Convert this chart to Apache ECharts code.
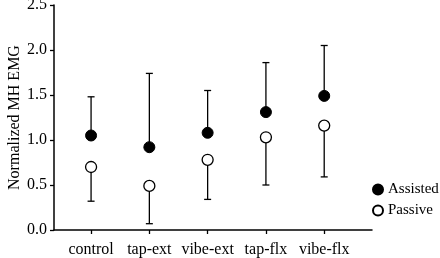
<!DOCTYPE html>
<html>
<head>
<meta charset="utf-8">
<script src="https://cdn.jsdelivr.net/npm/echarts@6/dist/echarts.min.js"></script>
<style>
  html, body { margin: 0; padding: 0; background: #fff; }
  #main { width: 440px; height: 258px; }
</style>
</head>
<body>
<div id="main"></div>
<script>
var categories = ["control", "tap-ext", "vibe-ext", "tap-flx", "vibe-flx"];
var assisted = [1.05, 0.92, 1.08, 1.31, 1.49];
var assistedUpper = [1.48, 1.74, 1.55, 1.86, 2.05];
var passive = [0.70, 0.49, 0.78, 1.03, 1.16];
var passiveLower = [0.32, 0.07, 0.34, 0.50, 0.59];
var yTicks = [0, 0.5, 1.0, 1.5, 2.0, 2.5];

var font = "Liberation Serif";
var xPos = categories.map(function (c, i) { return i + 1; });

// error bar: vertical line from value to end, with a cap
function errorBar(params, api) {
  var p0 = api.coord([api.value(0), api.value(1)]);
  var p1 = api.coord([api.value(0), api.value(2)]);
  var half = 3.5;
  var style = { stroke: "#000", lineWidth: 1.3 };
  return {
    type: "group",
    children: [
      { type: "line", shape: { x1: p0[0], y1: p0[1], x2: p1[0], y2: p1[1] }, style: style },
      { type: "line", shape: { x1: p1[0] - half, y1: p1[1], x2: p1[0] + half, y2: p1[1] }, style: style }
    ]
  };
}

var chart = echarts.init(document.getElementById("main"));
chart.setOption({
  animation: false,
  textStyle: { fontFamily: font, color: "#000" },
  grid: { left: 54, right: 68, top: 5, bottom: 28, outerBoundsMode: "none" },
  legend: {
    orient: "vertical",
    left: 372,
    top: 182,
    padding: 0,
    itemWidth: 10,
    itemHeight: 10,
    itemGap: 6,
    textStyle: { fontFamily: font, fontSize: 15, color: "#000" },
    data: ["Assisted", "Passive"]
  },
  xAxis: {
    type: "value",
    min: 0.364,
    max: 5.82,
    splitLine: { show: false },
    axisLine: { lineStyle: { color: "#000", width: 1.5 } },
    axisTick: { customValues: xPos, length: 4, lineStyle: { color: "#000", width: 1.3 } },
    axisLabel: {
      customValues: xPos,
      margin: 12,
      fontFamily: font,
      fontSize: 16,
      color: "#000",
      formatter: function (v) { return categories[Math.round(v) - 1]; }
    }
  },
  yAxis: {
    type: "value",
    min: yTicks[0],
    max: yTicks[yTicks.length - 1],
    interval: 0.5,
    name: "Normalized MH EMG",
    nameLocation: "middle",
    nameGap: 31,
    nameMoveOverlap: false,
    nameTextStyle: { fontFamily: font, fontSize: 16, color: "#000" },
    splitLine: { show: false },
    axisLine: { show: true, lineStyle: { color: "#000", width: 1.5 } },
    axisTick: { show: true, length: 4, lineStyle: { color: "#000", width: 1.3 } },
    axisLabel: {
      margin: 7,
      fontFamily: font,
      fontSize: 16,
      color: "#000",
      formatter: function (v) { return v.toFixed(1); }
    }
  },
  series: [
    {
      type: "custom",
      renderItem: errorBar,
      z: 1,
      data: xPos.map(function (x, i) { return [x, assisted[i], assistedUpper[i]]; })
    },
    {
      type: "custom",
      renderItem: errorBar,
      z: 1,
      data: xPos.map(function (x, i) { return [x, passive[i], passiveLower[i]]; })
    },
    {
      name: "Assisted",
      type: "scatter",
      symbol: "circle",
      symbolSize: 11,
      z: 5,
      itemStyle: { color: "#000", borderColor: "#000", borderWidth: 1, opacity: 1 },
      data: xPos.map(function (x, i) { return [x, assisted[i]]; })
    },
    {
      name: "Passive",
      type: "scatter",
      symbol: "circle",
      symbolSize: 11,
      z: 5,
      itemStyle: { color: "#fff", borderColor: "#000", borderWidth: 1.3, opacity: 1 },
      data: xPos.map(function (x, i) { return [x, passive[i]]; })
    }
  ]
});
</script>
</body>
</html>
